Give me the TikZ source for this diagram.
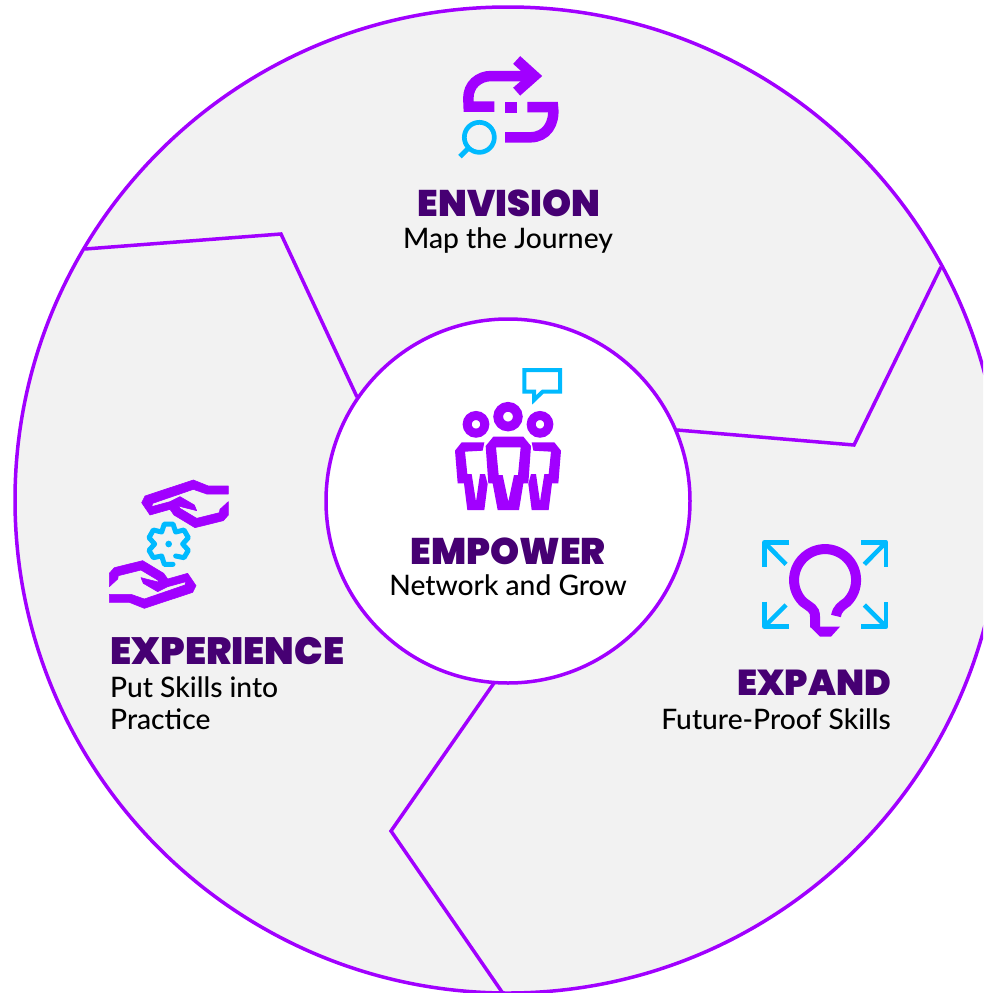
\documentclass[tikz,border=0pt]{standalone}
\usepackage{fontspec}
\setmainfont{Lato}[UprightFont={* Medium}]
\newfontfamily\headfont{Poppins}[UprightFont={* Black}]
\definecolor{vio}{HTML}{A100FF}
\definecolor{cya}{HTML}{00BAFF}
\definecolor{pan}{HTML}{F2F2F2}
\definecolor{deep}{HTML}{460073}
\tikzset{
 ring/.style={draw=vio,line width=3.5pt},
 head/.style={font=\headfont\fontsize{37}{37}\selectfont,text=deep,inner sep=0pt},
 sub/.style={font=\fontsize{28.2}{28.2}\selectfont,text=black,inner sep=0pt},
 ico/.style={x=0.33333pt,y=-0.33333pt},
 thinc/.style={draw=cya,line width=1.5pt,line join=round},
}
\begin{document}
\begin{tikzpicture}[x=1pt,y=-1pt]
\useasboundingbox (0,0) rectangle (983,993);
\clip (0,0) rectangle (983,993);
\coordinate (c) at (508,500);
\fill[white] (0,0) rectangle (983,993);
\filldraw[fill=pan,ring] (c) circle[radius=493pt];
\draw[ring,line join=miter] (85,249) -- (281,234) -- (357,397);
\draw[ring,line join=miter] (941,267) -- (854,445) -- (677,430);
\draw[ring,line join=miter] (494,683) -- (391,831) -- (502,992);
\filldraw[fill=white,ring] (508,501) circle[radius=182pt];
% envision icon
\begin{scope}[shift={(440,40)},ico]
\draw[vio,line width=10.5pt] (163,200) -- (86,200) -- (85,175) .. controls (85,135) and (115,108) .. (155,108) -- (280,108);
\draw[vio,line width=10.5pt] (230,60) -- (283,108) -- (230,155);
\fill[vio] (195,185) rectangle (232,218);
\draw[vio,line width=10.5pt] (262,201) -- (339,201) .. controls (345,250) and (320,292) .. (270,292) -- (195,292);
\draw[cya,line width=4.7pt] (118,292) circle[radius=45];
\draw[cya,line width=5pt] (84,326) -- (60,350);
\end{scope}
% people icon
\begin{scope}[shift={(440,360)},ico]
\draw[thinc,line width=4pt,line join=miter] (253,30) -- (360,30) -- (360,95) -- (308,95) -- (282,120) -- (282,95) -- (253,95) -- cycle;
\draw[vio,line width=9.7pt] (204,170) circle[radius=29.5];
\draw[vio,line width=9pt] (108,193) circle[radius=26.5];
\draw[vio,line width=9pt] (300,193) circle[radius=26.5];
\fill[vio,even odd rule] (160,230) -- (250,230) -- (273,258) -- (265,370) -- (250,370) -- (237,450) -- (173,450) -- (158,370) -- (145,370) -- (137,258) -- cycle
 (168,262) -- (242,262) -- (234,345) -- (222,345) -- (205,425) -- (188,345) -- (176,345) -- cycle;
\fill[vio] (45,272) -- (65,247) -- (133,247) -- (128,272) -- (75,275) -- (82,342) -- (95,342) -- (108,425) -- (120,342) -- (135,342) -- (143,372) -- (133,450) -- (82,450) -- (72,370) -- (53,370) -- cycle;
\fill[vio] (363,272) -- (343,247) -- (275,247) -- (280,272) -- (333,275) -- (326,342) -- (313,342) -- (300,425) -- (288,342) -- (273,342) -- (265,372) -- (275,450) -- (326,450) -- (336,370) -- (355,370) -- cycle;
\end{scope}
% experience icon
\begin{scope}[shift={(100,470)},ico]
\foreach \r in {0,180}{
\filldraw[vio,line width=0.6pt,line join=round,rotate around={\r:(206.5,222.5)}] (385,48) -- (325,48) -- (280,30) -- (135,78) -- (125,98) -- (150,135) -- (210,118) -- (222,135) -- (285,173) -- (370,152) -- (385,135) -- (385,95) -- (360,118) -- (358,128) -- (290,145) -- (240,115) -- (235,108) -- (290,122) -- (283,105) -- (240,80) -- (210,95) -- (155,110) -- (158,100) -- (280,58) -- (320,72) -- (385,72) -- cycle;
}
\draw[cya,line width=5pt,line join=round,line cap=round] (227,258) -- (252,263) -- (265,241) -- (248,222) -- (265,203) -- (252,180) -- (227,186) -- (219,162) -- (193,162) -- (185,186) -- (160,180) -- (147,203) -- (164,222) -- (147,241) -- (160,263) -- (185,258) -- (193,283) -- (219,283);
\fill[cya] (206,222) circle[radius=10];
\end{scope}
% expand icon
\begin{scope}[shift={(750,530)},ico]
\draw[vio,line width=10pt] (258,258) .. controls (262,235) and (275,228) .. (291,216) arc[start angle=45,end angle=-225,radius=93] .. controls (180,232) and (195,235) .. (195,260) -- (195,292);
\fill[vio] (180,290) -- (270,290) -- (243,320) -- (210,320) -- cycle;
\foreach \a/\b/\d/\e/\f/\g in {118/37/43/37/43/112,333/37/408/37/408/112,43/215/43/290/118/290,333/290/408/290/408/215}{
\draw[thinc,line width=4.5pt,line join=round] (\a,\b) -- (\d,\e) -- (\f,\g);
}
\draw[thinc,line width=4.5pt] (43,37) -- (108,103);
\draw[thinc,line width=4.5pt] (408,37) -- (343,103);
\draw[thinc,line width=4.5pt] (43,290) -- (108,225);
\draw[thinc,line width=4.5pt] (408,290) -- (343,225);
\end{scope}
% text
\node[head,anchor=base] (t1) at (509,216) {ENVISION};
\node[sub,anchor=base] (t2) at (508,248) {Map the Journey};
\node[head,anchor=base] (t3) at (508,564) {EMPOWER};
\node[sub,anchor=base] (t4) at (508,595) {Network and Grow};
\node[head,anchor=base west,font=\headfont\fontsize{38}{38}\selectfont] (t5) at (110,664) {EXPERIENCE};
\node[sub,anchor=base west] (t6) at (110,697) {Put Skills into};
\node[sub,anchor=base west] (t7) at (110,729) {Practice};
\node[head,anchor=base east,font=\headfont\fontsize{36}{36}\selectfont] (t8) at (891,695) {EXPAND};
\node[sub,anchor=base east] (t9) at (891,729) {Future-Proof Skills};
\end{tikzpicture}
\end{document}
